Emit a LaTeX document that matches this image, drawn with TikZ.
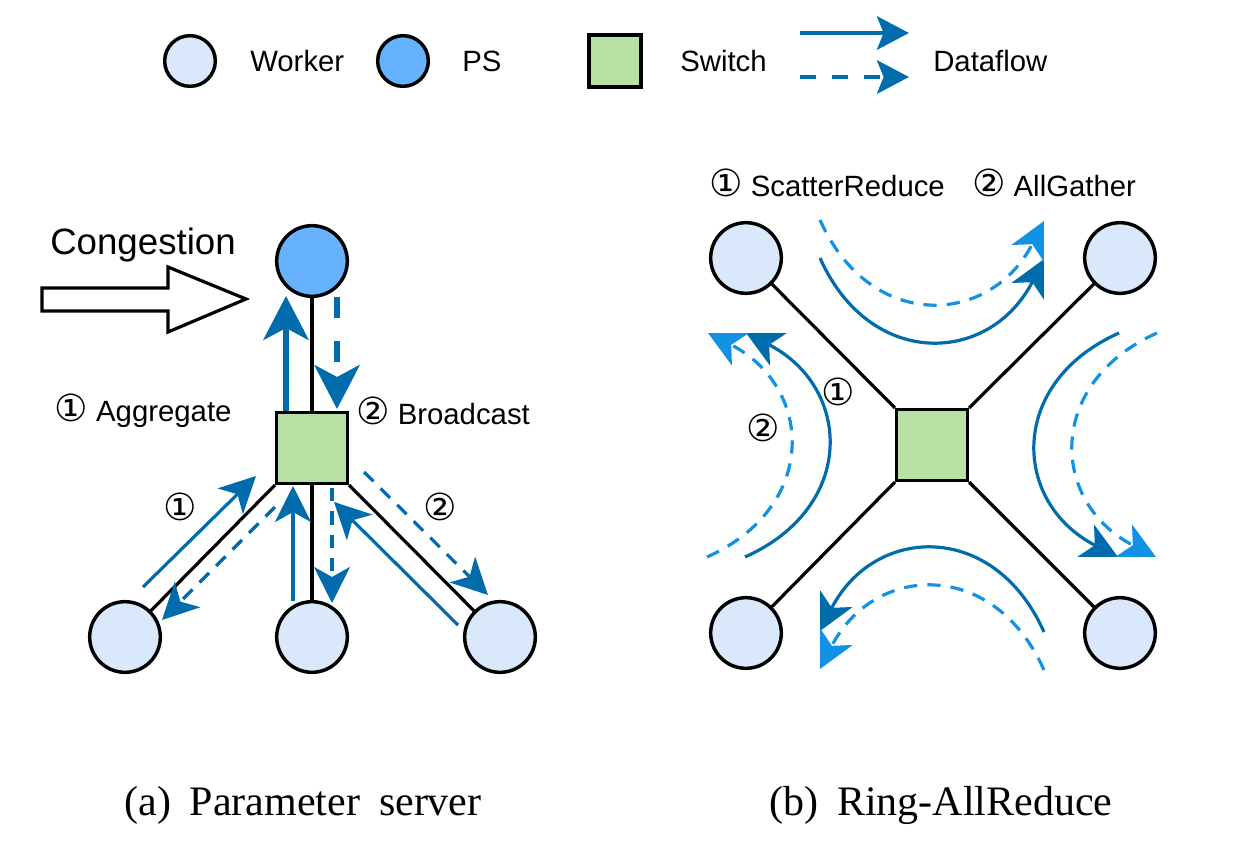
\documentclass[tikz,border=0pt]{standalone}
\usepackage{fontspec}
\setmainfont{Liberation Serif}
\setsansfont{Liberation Sans}
\newfontfamily\circfont{DejaVu Sans}
\usepackage{tikz}
\usetikzlibrary{arrows.meta,shapes.geometric}
\definecolor{flowdark}{RGB}{0,108,172}
\definecolor{flowlight}{RGB}{18,146,228}
\definecolor{workerfill}{RGB}{218,232,252}
\definecolor{psfill}{RGB}{102,178,255}
\definecolor{switchfill}{RGB}{185,224,165}
\newcommand{\cnum}[1]{{\circfont\fontsize{28}{30}\selectfont #1}}
\tikzstyle{worker} = [circle,draw=black,line width=2.6pt,fill=workerfill,minimum size=53pt,inner sep=0pt]
\tikzstyle{psnode} = [worker,fill=psfill]
\tikzstyle{switchnode} = [rectangle,draw=black,line width=2.6pt,fill=switchfill,minimum size=53pt,inner sep=0pt]
\tikzstyle{link} = [line width=2.4pt]
\tikzstyle{flow} = [line width=2.4pt,color=flowdark,-{Stealth[length=27pt,width=27pt,inset=7.5pt]}]
\tikzstyle{dflow} = [flow,dash pattern=on 10pt off 7.5pt]
\tikzstyle{lflow} = [dflow,color=flowlight]
\tikzstyle{lgflow} = [flow,line width=3.4pt,-{Stealth[length=24pt,width=25pt,inset=5pt]}]
\tikzstyle{bigflow} = [line width=4.5pt,color=flowdark,-{Stealth[length=33pt,width=34pt,inset=9pt]}]
\tikzstyle{txt} = [font=\sffamily\fontsize{22}{26}\selectfont,inner sep=0pt]
\tikzstyle{caption} = [font=\fontsize{31.5}{38}\selectfont,inner sep=0pt]

\begin{document}
\begin{tikzpicture}[x=0.75pt,y=0.75pt,yscale=-1,xscale=1]
\useasboundingbox (0,0) rectangle (1233,849);

% Legend
\node[worker,minimum size=38pt] (lgworker) at (190,61) {};
\node[txt,anchor=west] (lgworkertxt) at (250,61) {Worker};
\node[psnode,minimum size=38pt] (lgps) at (403,61) {};
\node[txt,anchor=west] (lgpstxt) at (462,61) {PS};
\node[switchnode,minimum size=39pt] (lgswitch) at (615,61) {};
\node[txt,anchor=west] (lgswitchtxt) at (680,61) {Switch};
\coordinate (lgsolid) at (800,33);
\coordinate (lgsolidend) at (909,33);
\coordinate (lgdash) at (800,77);
\coordinate (lgdashend) at (909,77);
\draw[lgflow] (lgsolid) -- (lgsolidend);
\draw[lgflow,dash pattern=on 12pt off 12pt] (lgdash) -- (lgdashend);
\node[txt,anchor=west] (lgflowtxt) at (933,61) {Dataflow};

% (a) Parameter server
\node[psnode] (ps) at (312,261) {};
\node[switchnode] (sw) at (312,448) {};
\node[worker] (wl) at (125,637) {};
\node[worker] (wm) at (312,637) {};
\node[worker] (wr) at (500,637) {};
\draw[link] (ps) -- (sw);
\draw[link] (sw.south west) -- (wl);
\draw[link] (sw.south) -- (wm);
\draw[link] (sw.south east) -- (wr);

%Congestion arrow
\node[txt,font=\sffamily\fontsize{27.5}{32}\selectfont] (cong) at (143,245) {Congestion};
\draw[line width=2.4pt,fill=white] (42,288) -- (168,288) -- (168,267) -- (246,299) -- (168,332) -- (168,311) -- (42,311) -- cycle;

%Dataflow PS <-> switch
\draw[bigflow] (286,411) -- (286,296);
\draw[bigflow,dash pattern=on 16pt off 17pt] (337,297) -- (337,409);
%Dataflow switch <-> workers
\draw[flow] (143,587) -- (256,476);
\draw[dflow] (275,507) -- (162,620);
\draw[flow] (293,601) -- (293,486);
\draw[dflow] (332,488) -- (332,603);
\draw[flow] (458,625) -- (334,502);
\draw[dflow] (364,472) -- (488,595);

\node[txt] (aggnum) at (180,507) {\cnum{①}};
\node[txt] (bcnum) at (440,507) {\cnum{②}};
\node[txt] (agg) at (143,411) {\cnum{①} Aggregate};
\node[txt] (bc) at (443,411) {\cnum{②} Broadcast};

% (b) Ring-AllReduce
\node[switchnode] (sw2) at (932,445) {};
\node[worker] (tl) at (746,258) {};
\node[worker] (tr) at (1120,258) {};
\node[worker] (bl) at (746,633) {};
\node[worker] (br) at (1120,633) {};
\draw[link] (sw2.north west) -- (tl);
\draw[link] (sw2.north east) -- (tr);
\draw[link] (sw2.south west) -- (bl);
\draw[link] (sw2.south east) -- (br);

%Ring dataflow
\draw[flow] (820,258) .. controls (870,370) and (990,365) .. (1044,259);
\draw[lflow] (820,220) .. controls (870,332) and (990,327) .. (1044,221);
\draw[flow] (1119,333) .. controls (1007,383) and (1012,503) .. (1118,557);
\draw[lflow] (1157,333) .. controls (1045,383) and (1050,503) .. (1156,557);
\draw[flow] (1044,632) .. controls (994,520) and (874,525) .. (820,631);
\draw[lflow] (1044,670) .. controls (994,558) and (874,563) .. (820,669);
\draw[flow] (745,557) .. controls (857,507) and (852,387) .. (746,333);
\draw[lflow] (707,557) .. controls (819,507) and (814,387) .. (708,333);

\node[txt] (srnum) at (838,392) {\cnum{①}};
\node[txt] (agnum) at (763,428) {\cnum{②}};
\node[txt] (sr) at (827,183) {\cnum{①} ScatterReduce};
\node[txt] (ag) at (1054,183) {\cnum{②} AllGather};

% Captions
\node[caption] (capa) at (303,805) {(a)\hspace{0.45em}Parameter\hspace{0.45em}server};
\node[caption] (capb) at (941,805) {(b)\hspace{0.45em}Ring-AllReduce};

\end{tikzpicture}
\end{document}
